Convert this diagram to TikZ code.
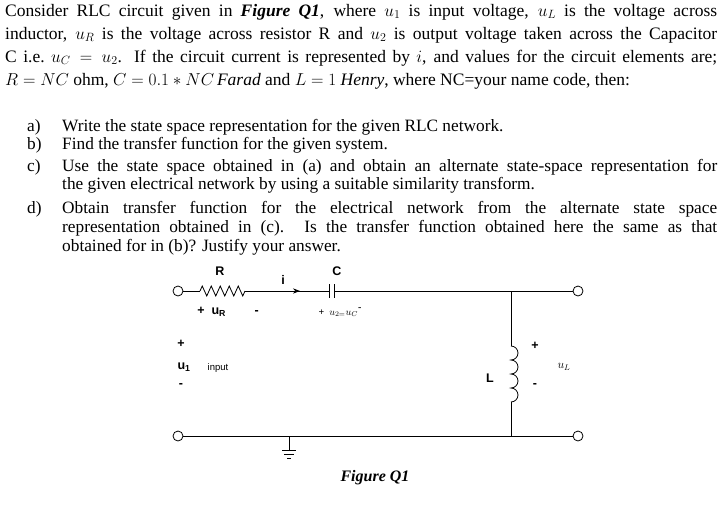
\documentclass[tikz,border=0pt]{standalone}
\usepackage{fontspec}
\setmainfont{Liberation Serif}
\newfontfamily\lab{Liberation Sans}
\usetikzlibrary{decorations.pathmorphing,arrows.meta}
\begin{document}
\begin{tikzpicture}[x=1pt,y=-1pt,
  ln/.style={anchor=west,inner sep=0pt,font=\fontsize{17.5}{19}\selectfont},
  li/.style={anchor=west,inner sep=0pt,font=\fontsize{17.3}{19}\selectfont},
  term/.style={circle,draw,thick,minimum size=10pt,inner sep=0pt},
  w/.style={thick},
  cl/.style={font=\lab\bfseries\fontsize{12.5}{14}\selectfont,inner sep=0pt}]
\useasboundingbox (0,0) rectangle (721,504);
\node[ln] (l1) at (5,12) {\makebox[712pt][s]{Consider RLC circuit given in \textbf{\textit{Figure Q1}}, where $u_1$ is input voltage, $u_L$ is the voltage across}};
\node[ln] (l2) at (5,35) {\makebox[712pt][s]{inductor, $u_R$ is the voltage across resistor R and $u_2$ is output voltage taken across the Capacitor}};
\node[ln] (l3) at (5,58) {\makebox[712pt][s]{C i.e.\ $u_C=u_2$. If the circuit current is represented by $i$, and values for the circuit elements are;}};
\node[ln] (l4) at (5,81) {$R=NC$ ohm, $C=0.1*NC\,\mathit{Farad}$ and $L=1$ \textit{Henry}, where NC=your name code, then:};
\node[li] (la) at (27,127) {a)};
\node[li] (a) at (62,127) {Write the state space representation for the given RLC network.};
\node[li] (lb) at (27,145) {b)};
\node[li] (b) at (62,145) {Find the transfer function for the given system.};
\node[li] (lc) at (27,167) {c)};
\node[li] (c1) at (62,167) {\makebox[655pt][s]{Use the state space obtained in (a) and obtain an alternate state-space representation for}};
\node[li] (c2) at (62,185) {the given electrical network by using a suitable similarity transform.};
\node[li] (ld) at (27,209) {d)};
\node[li] (d1) at (62,209) {\makebox[655pt][s]{Obtain transfer function for the electrical network from the alternate state space}};
\node[li] (d2) at (62,228) {\makebox[655pt][s]{representation obtained in (c). Is the transfer function obtained here the same as that}};
\node[li] (d3) at (62,247) {obtained for in (b)? Justify your answer.};
% circuit
\node[term] (t1) at (178,291) {};
\node[term] (t2) at (578,291) {};
\node[term] (t3) at (178,436) {};
\node[term] (t4) at (578,436) {};
\coordinate (r1) at (200,291); \coordinate (r2) at (245,291);
\coordinate (c1a) at (329,291); \coordinate (c1b) at (334,291);
\coordinate (ltop) at (511,291); \coordinate (lbot) at (511,436);
\coordinate (l1a) at (511,346); \coordinate (l2a) at (511,402);
\coordinate (gnd) at (289,436);
\draw[w] (t1) -- (r1);
\draw[w,decoration={zigzag,segment length=9pt,amplitude=5pt},decorate] (r1) -- (r2);
\draw[w] (r2) -- (c1a);
\draw[w,-{Stealth[length=7pt]}] (r2) -- (300,291);
\draw[w] (329,284) -- (329,298); \draw[w] (334,284) -- (334,298);
\draw[w] (c1b) -- (t2);
\draw[w] (ltop) -- (l1a);
\draw[w] (l1a) \foreach \k in {1,...,4} {arc[start angle=-90,end angle=90,radius=7]};
\draw[w] (l2a) -- (lbot);
\draw[w] (t3) -- (t4);
\draw[w] (gnd) -- (289,450);
\draw[w] (282,450) -- (296,450); \draw[w] (284,454) -- (294,454); \draw[w] (287,458) -- (291,458);
\node[cl] (R) at (220,271) {R};
\node[cl] (I) at (283,280) {i};
\node[cl] (C) at (337,271) {C};
\node[cl] (uR) at (228,312) {+ \ u\textsubscript{R} \qquad -};
\node[inner sep=0pt,font=\normalsize] (uC) at (340,312) {\textbf{+} \ $u_{2=}u_C$\raisebox{5pt}{\textbf{-}}};
\node[cl] (p1) at (181,344) {+};
\node[cl] (u1) at (184,367) {u\textsubscript{1}};
\node[cl] (m1) at (181,386) {-};
\node[inner sep=0pt,font=\lab\fontsize{9.5}{10}\selectfont] (inp) at (218,368) {input};
\node[cl] (Llab) at (490,378) {L};
\node[cl] (p2) at (535,346) {+};
\node[inner sep=0pt,font=\large] (uL) at (564,367) {$u_L$};
\node[cl] (m2) at (535,386) {-};
\node[inner sep=0pt,font=\fontsize{16}{18}\selectfont\bfseries\itshape] (fig) at (375,478) {Figure Q1};
\end{tikzpicture}
\end{document}
